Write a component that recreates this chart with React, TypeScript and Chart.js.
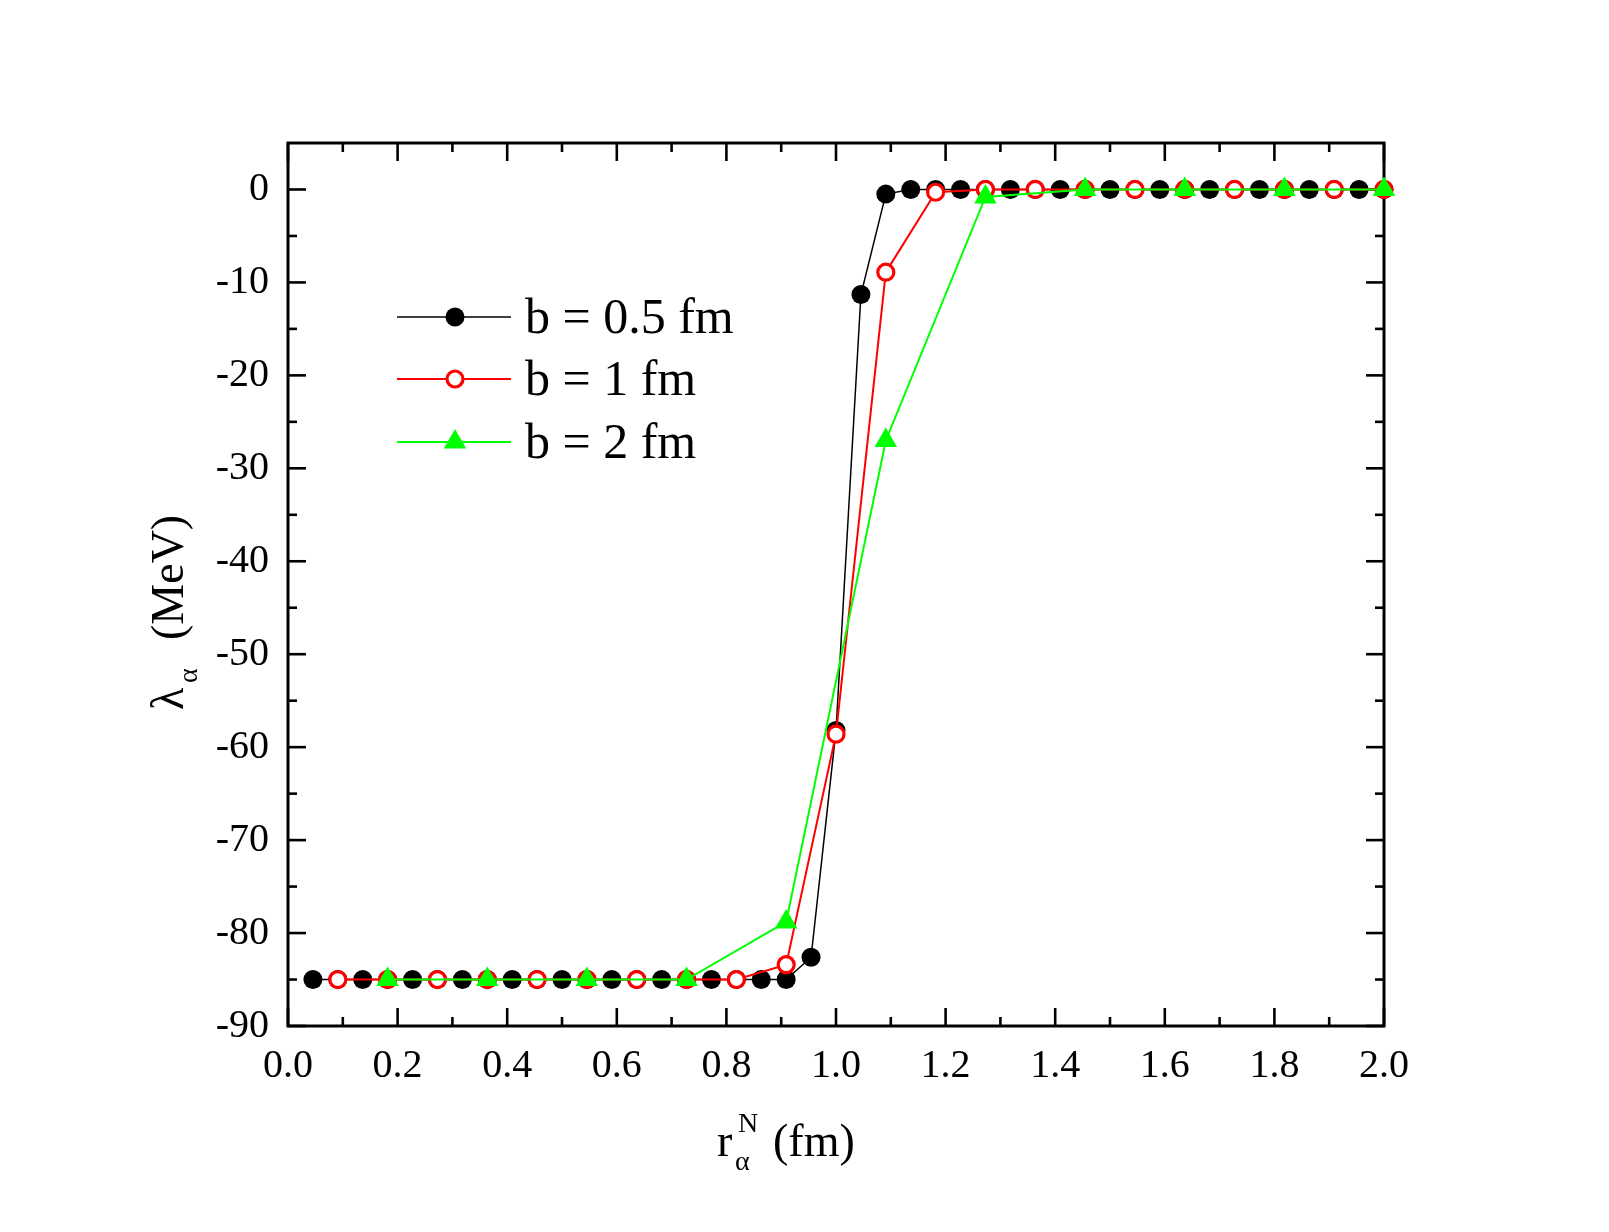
import React, { useEffect, useRef } from 'react';
import { Chart, registerables } from 'chart.js';

Chart.register(...registerables);

const W = 1609;
const H = 1232;
const SERIF = '"Liberation Serif", "Times New Roman", Times, serif';

// b = 0.5 fm
const rBlack = [
  0.0455, 0.0909, 0.1364, 0.1818, 0.2273, 0.2727, 0.3182, 0.3636, 0.4091, 0.4545,
  0.5, 0.5455, 0.5909, 0.6364, 0.6818, 0.7273, 0.7727, 0.8182, 0.8636, 0.9091,
  0.9545, 1.0, 1.0455, 1.0909, 1.1364, 1.1818, 1.2273, 1.2727, 1.3182, 1.3636,
  1.4091, 1.4545, 1.5, 1.5455, 1.5909, 1.6364, 1.6818, 1.7273, 1.7727, 1.8182,
  1.8636, 1.9091, 1.9545, 2.0,
];
const lambdaBlack = [
  -85, -85, -85, -85, -85, -85, -85, -85, -85, -85,
  -85, -85, -85, -85, -85, -85, -85, -85, -85, -85,
  -82.6, -58.2, -11.3, -0.5, 0, 0, 0, 0, 0, 0,
  0, 0, 0, 0, 0, 0, 0, 0, 0, 0,
  0, 0, 0, 0,
];

// b = 1 fm
const rRed = [
  0.0909, 0.1818, 0.2727, 0.3636, 0.4545, 0.5455, 0.6364, 0.7273, 0.8182, 0.9091,
  1.0, 1.0909, 1.1818, 1.2727, 1.3636, 1.4545, 1.5455, 1.6364, 1.7273, 1.8182,
  1.9091, 2.0,
];
const lambdaRed = [
  -85, -85, -85, -85, -85, -85, -85, -85, -85, -83.4,
  -58.6, -8.9, -0.3, 0, 0, 0, 0, 0, 0, 0,
  0, 0,
];

// b = 2 fm
const rGreen = [0.1818, 0.3636, 0.5455, 0.7273, 0.9091, 1.0909, 1.2727, 1.4545, 1.6364, 1.8182, 2.0];
const lambdaGreen = [-85, -85, -85, -85, -78.8, -27.0, -0.8, 0, 0, 0, 0];

const seriesLabels = ['b = 0.5 fm', 'b = 1 fm', 'b = 2 fm'];

const xMajor = [0, 0.2, 0.4, 0.6, 0.8, 1.0, 1.2, 1.4, 1.6, 1.8, 2.0];
const xMinor = [0.1, 0.3, 0.5, 0.7, 0.9, 1.1, 1.3, 1.5, 1.7, 1.9];
const yMajor = [-90, -80, -70, -60, -50, -40, -30, -20, -10, 0];
const yMinor = [-85, -75, -65, -55, -45, -35, -25, -15, -5];

const toPoints = (xs: number[], ys: number[]) => xs.map((x, i) => ({ x, y: ys[i] }));

// Box frame with inward ticks on all four sides
const framePlugin = {
  id: 'frame',
  beforeDatasetsDraw(chart: any) {
    const { ctx, chartArea: a, scales } = chart;
    const sx = scales.x;
    const sy = scales.y;
    ctx.save();
    ctx.strokeStyle = '#000';
    ctx.lineWidth = 3;
    ctx.strokeRect(a.left, a.top, a.right - a.left, a.bottom - a.top);
    ctx.lineWidth = 2.6;
    const seg = (x1: number, y1: number, x2: number, y2: number) => {
      ctx.beginPath();
      ctx.moveTo(x1, y1);
      ctx.lineTo(x2, y2);
      ctx.stroke();
    };
    const xTicks = (vals: number[], len: number) => {
      vals.forEach((v) => {
        const px = sx.getPixelForValue(v);
        seg(px, a.bottom, px, a.bottom - len);
        seg(px, a.top, px, a.top + len);
      });
    };
    const yTicks = (vals: number[], len: number) => {
      vals.forEach((v) => {
        const py = sy.getPixelForValue(v);
        seg(a.left, py, a.left + len, py);
        seg(a.right, py, a.right - len, py);
      });
    };
    xTicks(xMajor, 18);
    xTicks(xMinor, 9);
    yTicks(yMajor, 18);
    yTicks(yMinor, 9);
    ctx.restore();
  },
};

const drawMarker = (ctx: CanvasRenderingContext2D, ds: any, x: number, y: number) => {
  const r = ds.pointRadius;
  ctx.save();
  ctx.fillStyle = ds.pointBackgroundColor;
  ctx.strokeStyle = ds.pointBorderColor;
  ctx.lineWidth = ds.pointBorderWidth;
  ctx.beginPath();
  if (ds.pointStyle === 'triangle') {
    ctx.moveTo(x, y - r);
    ctx.lineTo(x + r * Math.sin(Math.PI / 3), y + r / 2);
    ctx.lineTo(x - r * Math.sin(Math.PI / 3), y + r / 2);
    ctx.closePath();
  } else {
    ctx.arc(x, y, r, 0, Math.PI * 2);
  }
  ctx.fill();
  if (ds.pointBorderWidth > 0) ctx.stroke();
  ctx.restore();
};

// Legend inside the plot plus axis titles with sub/superscripts
const annotationPlugin = {
  id: 'annotations',
  afterDraw(chart: any) {
    const { ctx, chartArea: a } = chart;
    ctx.save();
    ctx.fillStyle = '#000';
    ctx.textBaseline = 'alphabetic';
    ctx.textAlign = 'left';

    // legend
    const lx0 = a.left + 109;
    const lx1 = a.left + 223;
    const lm = a.left + 167;
    const rows = [a.top + 174, a.top + 236, a.top + 299];
    const legendOrder = [0, 1, 2];
    legendOrder.forEach((i, row) => {
      const ds = chart.data.datasets[i];
      const yy = rows[row];
      ctx.strokeStyle = ds.borderColor;
      ctx.lineWidth = ds.borderWidth;
      ctx.beginPath();
      ctx.moveTo(lx0, yy);
      ctx.lineTo(lx1, yy);
      ctx.stroke();
      drawMarker(ctx, ds, lm, yy);
      ctx.fillStyle = '#000';
      ctx.font = `50px ${SERIF}`;
      ctx.fillText(ds.label, a.left + 237, yy + 16);
    });

    // x title: r_alpha^N (fm)
    const bx = a.left + 429;
    const by = a.bottom + 130;
    ctx.font = `46px ${SERIF}`;
    ctx.fillText('r', bx, by);
    ctx.font = `28px ${SERIF}`;
    ctx.fillText('N', bx + 21, by - 24);
    ctx.fillText('α', bx + 18, by + 14);
    ctx.font = `46px ${SERIF}`;
    ctx.fillText('(fm)', bx + 56, by);

    // y title: lambda_alpha (MeV), rotated
    ctx.translate(a.left - 105, a.top + 567);
    ctx.rotate(-Math.PI / 2);
    ctx.font = `46px ${SERIF}`;
    ctx.fillText('λ', 0, 0);
    ctx.font = `28px ${SERIF}`;
    ctx.fillText('α', 27, 14);
    ctx.font = `46px ${SERIF}`;
    ctx.fillText('(MeV)', 70, 0);
    ctx.restore();
  },
};

export default function App() {
  const canvasRef = useRef<HTMLCanvasElement | null>(null);

  useEffect(() => {
    const canvas = canvasRef.current;
    if (!canvas) return;
    const chart = new Chart(canvas, {
      type: 'line',
      data: {
        datasets: [
          {
            label: seriesLabels[0],
            data: toPoints(rBlack, lambdaBlack),
            borderColor: '#000000',
            borderWidth: 1.5,
            pointStyle: 'circle',
            pointRadius: 9.5,
            pointBackgroundColor: '#000000',
            pointBorderColor: '#000000',
            pointBorderWidth: 0,
            order: 3,
            clip: false,
          },
          {
            label: seriesLabels[1],
            data: toPoints(rRed, lambdaRed),
            borderColor: '#ff0000',
            borderWidth: 2,
            pointStyle: 'circle',
            pointRadius: 8,
            pointBackgroundColor: '#ffffff',
            pointBorderColor: '#ff0000',
            pointBorderWidth: 3.2,
            order: 2,
            clip: false,
          },
          {
            label: seriesLabels[2],
            data: toPoints(rGreen, lambdaGreen),
            borderColor: '#00ff00',
            borderWidth: 2,
            pointStyle: 'triangle',
            pointRadius: 13,
            pointBackgroundColor: '#00ff00',
            pointBorderColor: '#00ff00',
            pointBorderWidth: 0,
            order: 1,
            clip: false,
          },
        ] as any,
      },
      options: {
        responsive: false,
        animation: false,
        devicePixelRatio: 1,
        events: [],
        layout: { padding: { left: 0, top: 143, right: 225, bottom: 0 } },
        plugins: {
          legend: { display: false },
          tooltip: { enabled: false },
          title: { display: false },
        },
        elements: { line: { tension: 0 } },
        scales: {
          x: {
            type: 'linear',
            min: 0,
            max: 2,
            border: { display: false },
            grid: { display: false, drawTicks: false },
            afterFit: (scale: any) => {
              scale.height = H - 1026;
            },
            afterBuildTicks: (scale: any) => {
              scale.ticks = xMajor.map((v) => ({ value: v }));
            },
            ticks: {
              padding: 16,
              color: '#000',
              maxRotation: 0,
              autoSkip: false,
              font: { family: SERIF, size: 40 },
              callback: (v: any) => Number(v).toFixed(1),
            },
          },
          y: {
            type: 'linear',
            min: -90,
            max: 5,
            border: { display: false },
            grid: { display: false, drawTicks: false },
            afterFit: (scale: any) => {
              scale.width = 288;
            },
            afterBuildTicks: (scale: any) => {
              scale.ticks = yMajor.map((v) => ({ value: v }));
            },
            ticks: {
              padding: 19,
              color: '#000',
              autoSkip: false,
              font: { family: SERIF, size: 40 },
              callback: (v: any) => String(Math.round(Number(v))),
            },
          },
        },
      } as any,
      plugins: [framePlugin, annotationPlugin],
    });
    return () => chart.destroy();
  }, []);

  return (
    <div style={{ position: 'absolute', left: 0, top: 0, width: W, height: H, background: '#fff' }}>
      <canvas ref={canvasRef} width={W} height={H} style={{ width: W, height: H, display: 'block' }} />
    </div>
  );
}
